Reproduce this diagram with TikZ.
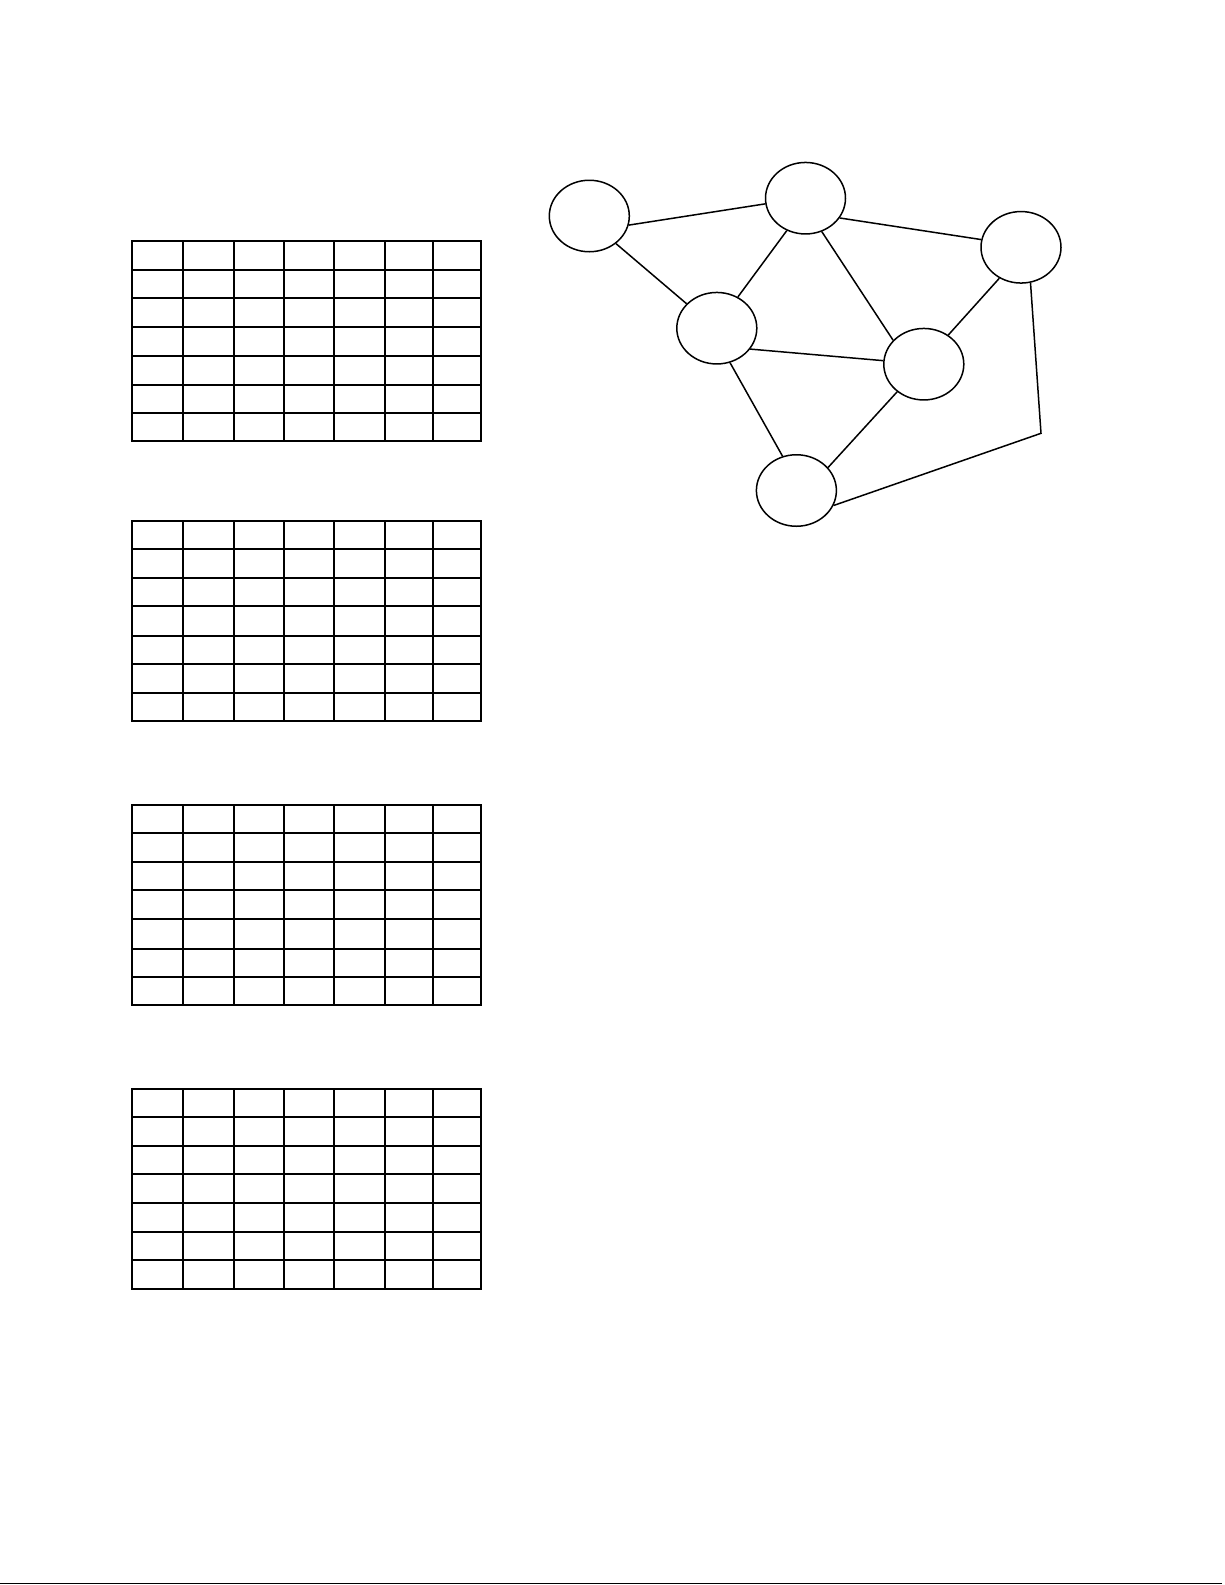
\documentclass[tikz,border=0pt]{standalone}
\usetikzlibrary{shapes.geometric}

\tikzset{site/.style={draw, ellipse, minimum width=80pt, minimum height=71.5pt, inner sep=0pt}}

\begin{document}
\begin{tikzpicture}[x=1pt, y=-1pt, line width=1.5pt]
		\useasboundingbox (0, 0) rectangle (1225, 1585);
		
		\draw (132, 241) rectangle (481, 441);
		\draw (183, 241) -- (183, 441);
		\draw (234, 241) -- (234, 441);
		\draw (284, 241) -- (284, 441);
		\draw (334, 241) -- (334, 441);
		\draw (385, 241) -- (385, 441);
		\draw (433, 241) -- (433, 441);
		\draw (132, 270) -- (481, 270);
		\draw (132, 298) -- (481, 298);
		\draw (132, 327) -- (481, 327);
		\draw (132, 356) -- (481, 356);
		\draw (132, 385) -- (481, 385);
		\draw (132, 413) -- (481, 413);
		
		\draw (132, 521) rectangle (481, 721);
		\draw (183, 521) -- (183, 721);
		\draw (234, 521) -- (234, 721);
		\draw (284, 521) -- (284, 721);
		\draw (334, 521) -- (334, 721);
		\draw (385, 521) -- (385, 721);
		\draw (433, 521) -- (433, 721);
		\draw (132, 549) -- (481, 549);
		\draw (132, 578) -- (481, 578);
		\draw (132, 606) -- (481, 606);
		\draw (132, 636) -- (481, 636);
		\draw (132, 664) -- (481, 664);
		\draw (132, 693) -- (481, 693);
		
		\draw (132, 805) rectangle (481, 1005);
		\draw (183, 805) -- (183, 1005);
		\draw (234, 805) -- (234, 1005);
		\draw (284, 805) -- (284, 1005);
		\draw (334, 805) -- (334, 1005);
		\draw (385, 805) -- (385, 1005);
		\draw (433, 805) -- (433, 1005);
		\draw (132, 833) -- (481, 833);
		\draw (132, 862) -- (481, 862);
		\draw (132, 890) -- (481, 890);
		\draw (132, 919) -- (481, 919);
		\draw (132, 949) -- (481, 949);
		\draw (132, 977) -- (481, 977);
		
		\draw (132, 1089) rectangle (481, 1289);
		\draw (183, 1089) -- (183, 1289);
		\draw (234, 1089) -- (234, 1289);
		\draw (284, 1089) -- (284, 1289);
		\draw (334, 1089) -- (334, 1289);
		\draw (385, 1089) -- (385, 1289);
		\draw (433, 1089) -- (433, 1289);
		\draw (132, 1117) -- (481, 1117);
		\draw (132, 1146) -- (481, 1146);
		\draw (132, 1174) -- (481, 1174);
		\draw (132, 1203) -- (481, 1203);
		\draw (132, 1232) -- (481, 1232);
		\draw (132, 1260) -- (481, 1260);
		
		\node[site] (n1) at (589.3, 216) {};
		\node[site] (n2) at (805.5, 198.2) {};
		\node[site] (n3) at (1021, 247.3) {};
		\node[site] (n4) at (716.8, 328.2) {};
		\node[site] (n5) at (923.8, 364.2) {};
		\node[site] (n6) at (796.4, 490.5) {};
		\coordinate (bend) at (1041, 433.3);
		
		\draw (n1.-13.7) -- (n2.-172.5);
		\draw (n1.-46.6) -- (n4.141.5);
		\draw (n2.-120.2) -- (n4.56);
		\draw (n2.-64) -- (n5.142.8);
		\draw (n2.-30.6) -- (n3.169.9);
		\draw (n3.-125.3) -- (n5.50.2);
		\draw (n4.-32.9) -- (n5.175.5);
		\draw (n4.-69) -- (n6.112.6);
		\draw (n5.-134.1) -- (n6.36.7);
		\draw (n3.-75.7) -- (bend) -- (n6.-22.8);
		
		\draw (0, 1583.5) -- (1222, 1583.5);
	\end{tikzpicture}
\end{document}
